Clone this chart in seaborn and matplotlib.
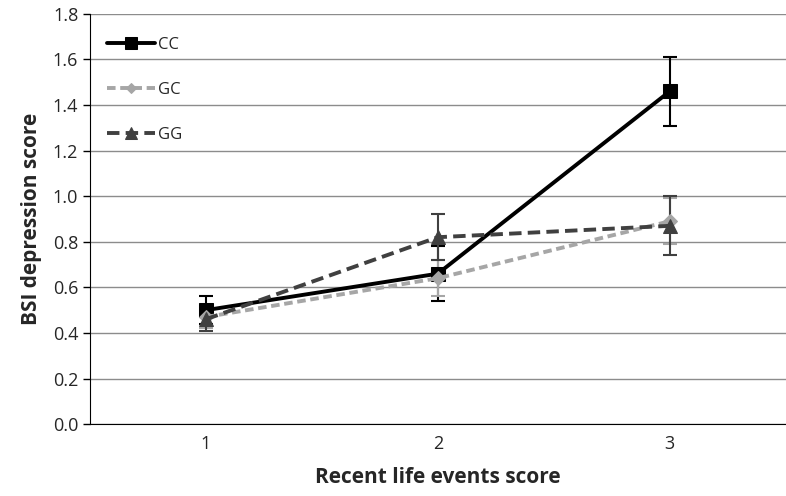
import numpy as np
import pandas as pd
import matplotlib
matplotlib.use("Agg")
import matplotlib.pyplot as plt
import seaborn as sns

# values
events = [1, 2, 3]
cc_mean = [0.50, 0.66, 1.46]
cc_err = [0.06, 0.12, 0.15]
gc_mean = [0.47, 0.64, 0.89]
gc_err = [0.05, 0.08, 0.10]
gg_mean = [0.46, 0.82, 0.87]
gg_err = [0.05, 0.10, 0.13]
genotypes = ["CC", "GC", "GG"]

sns.set_style("white")
plt.rcParams['font.family'] = ['Open Sans', 'DejaVu Sans']

fig = plt.figure(figsize=(7.86, 4.96), dpi=100)
ax = fig.add_axes([0.1145, 0.145, 0.885, 0.827])

styles = {
    "CC": dict(color="#000000", marker="s", dashes=(None, None), ms=10, lw=2.8),
    "GC": dict(color="#a6a6a6", marker="D", dashes=(2.2, 1.2), ms=7, lw=2.8),
    "GG": dict(color="#404040", marker="^", dashes=(3.2, 1.6), ms=10, lw=2.8),
}
means = {"CC": cc_mean, "GC": gc_mean, "GG": gg_mean}
errs = {"CC": cc_err, "GC": gc_err, "GG": gg_err}

for g in genotypes:
    st = styles[g]
    df = pd.DataFrame({"x": events, "y": means[g]})
    ax.errorbar(df["x"], df["y"], yerr=errs[g], fmt="none", ecolor=st["color"],
                elinewidth=1.5, capsize=5, capthick=1.5, zorder=3)
    sns.lineplot(data=df, x="x", y="y", ax=ax, color=st["color"],
                 marker=st["marker"], markersize=st["ms"], linewidth=st["lw"],
                 markeredgecolor=st["color"], label=g, zorder=4)
    ln = ax.lines[-1]
    if st["dashes"][0] is not None:
        ln.set_dashes(st["dashes"])

ax.set_xlim(0.5, 3.5)
ax.set_ylim(0, 1.8)
ax.set_yticks(np.arange(0, 1.81, 0.2))
ax.set_yticklabels([f"{v:.1f}" for v in np.arange(0, 1.81, 0.2)], fontsize=13)
ax.set_xticks(events)
ax.set_xticklabels([str(e) for e in events], fontsize=13)
ax.set_xticks([0.5, 1.5, 2.5, 3.5], minor=True)
ax.tick_params(axis="x", which="major", length=0, pad=8)
ax.tick_params(axis="x", which="minor", length=6, width=1, color="black", direction="out")
ax.tick_params(axis="y", length=5, width=1, color="black", direction="out", left=True)

ax.yaxis.grid(True, color="#8c8c8c", linewidth=1)
ax.set_axisbelow(True)
for s in ["top", "right"]:
    ax.spines[s].set_visible(False)
ax.spines["left"].set_color("black")
ax.spines["bottom"].set_color("black")

ax.set_xlabel("Recent life events score", fontsize=15, fontweight="bold", labelpad=10)
ax.set_ylabel("BSI depression score", fontsize=15, fontweight="bold", labelpad=8)

leg = ax.legend(loc="upper left", frameon=False, fontsize=12, labelspacing=1.75,
                handlelength=2.9, handletextpad=0.2, bbox_to_anchor=(0.0, 0.985),
                borderaxespad=0.6, markerscale=0.8)

fig.savefig("out.png", dpi=100)
